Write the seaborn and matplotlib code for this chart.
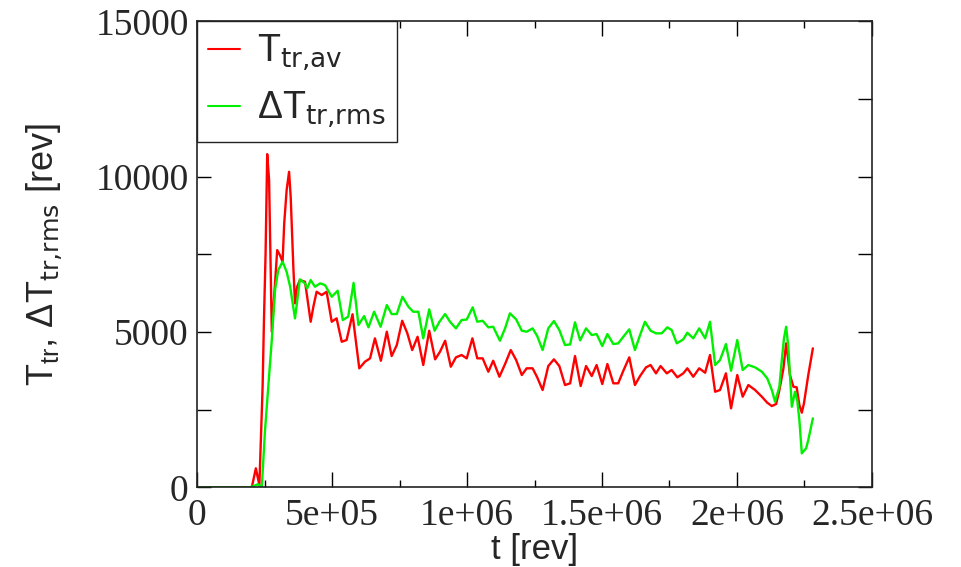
import numpy as np
import pandas as pd
import matplotlib
matplotlib.use("Agg")
import matplotlib.pyplot as plt
import seaborn as sns
from matplotlib.ticker import MultipleLocator, FixedLocator

# ---- data (t in rev) ----
t_av = [0, 203e3, 218e3, 231e3, 243e3, 248e3, 254e3, 260e3, 267e3, 277e3, 289e3, 297e3,
        307e3, 317e3, 323e3, 332e3, 341e3, 347e3, 357e3, 363e3, 371e3, 381e3, 400e3, 408e3,
        421e3, 431e3, 443e3, 462e3, 480e3, 499e3, 517e3, 536e3, 554e3, 576e3, 601e3, 622e3,
        641e3, 659e3, 681e3, 703e3, 721e3, 740e3, 760e3, 779e3, 797e3, 817e3, 838e3, 860e3,
        882e3, 900e3, 919e3, 940e3, 959e3, 980e3, 999e3, 1020e3, 1038e3, 1058e3, 1079e3,
        1097e3, 1120e3, 1141e3, 1162e3, 1182e3, 1203e3, 1221e3, 1243e3, 1260e3, 1280e3,
        1301e3, 1322e3, 1342e3, 1363e3, 1382e3, 1400e3, 1421e3, 1441e3, 1462e3, 1480e3,
        1501e3, 1520e3, 1542e3, 1560e3, 1579e3, 1601e3, 1622e3, 1641e3, 1663e3, 1680e3,
        1700e3, 1717e3, 1740e3, 1758e3, 1779e3, 1801e3, 1816e3, 1838e3, 1860e3, 1882e3,
        1900e3, 1919e3, 1937e3, 1959e3, 1978e3, 2001e3, 2021e3, 2042e3, 2067e3, 2092e3,
        2112e3, 2129e3, 2145e3, 2157e3, 2172e3, 2182e3, 2190e3, 2196e3, 2209e3, 2221e3,
        2231e3, 2240e3, 2248e3, 2264e3, 2281e3]
T_av = [0, 0, 611, 70, 3237, 5384, 7530, 10725, 9890, 5008, 6564, 7636,
        7475, 7260, 8495, 9567, 10156, 9352, 7047, 5921, 6456, 6671, 6616, 6133,
        5329, 5812, 6295, 6188, 6295, 5329, 5438, 4685, 4740, 5570, 3830, 4042,
        4151, 4795, 4074, 5008, 4225, 4579, 5361, 4956, 4418, 4846, 3936, 5040,
        4119, 4364, 4718, 3881, 4183, 4258, 4150, 4795, 4151, 4151, 3720,
        4074, 3559, 3968, 4418, 4097, 3614, 3830, 3830, 3540, 3131,
        3903, 4119, 3903, 3292, 3347, 4225, 3260, 3903, 3582, 3936,
        3324, 3968, 3347, 3347, 3752, 4183, 3292, 3582, 3861, 3936,
        3668, 3903, 3668, 3775, 3540, 3668, 3830, 3559, 3830, 3688,
        4258, 3076, 3131, 3668, 2542, 3614, 2916, 3292, 3131, 2916,
        2723, 2616, 2680, 3131, 3830, 4634, 4097, 3614, 3237, 3218,
        2648, 2401, 2703, 3614, 4473]

t_rms = [0, 196e3, 215e3, 226e3, 240e3, 252e3, 264e3, 277e3, 289e3, 301e3, 317e3, 332e3,
         345e3, 363e3, 381e3, 400e3, 408e3, 421e3, 437e3, 456e3, 474e3, 499e3, 521e3, 540e3,
         560e3, 580e3, 598e3, 619e3, 635e3, 656e3, 680e3, 703e3, 721e3, 740e3, 761e3, 783e3,
         801e3, 820e3, 838e3, 860e3, 880e3, 898e3, 919e3, 937e3, 959e3, 980e3, 999e3, 1021e3,
         1038e3, 1058e3, 1079e3, 1097e3, 1122e3, 1141e3, 1159e3, 1182e3, 1203e3, 1221e3,
         1243e3, 1260e3, 1280e3, 1301e3, 1322e3, 1342e3, 1363e3, 1382e3, 1400e3, 1419e3,
         1441e3, 1462e3, 1480e3, 1501e3, 1520e3, 1542e3, 1560e3, 1579e3, 1601e3, 1622e3,
         1641e3, 1659e3, 1680e3, 1700e3, 1721e3, 1742e3, 1758e3, 1777e3, 1801e3, 1816e3,
         1838e3, 1860e3, 1882e3, 1900e3, 1919e3, 1937e3, 1959e3, 1978e3, 2001e3, 2021e3,
         2042e3, 2067e3, 2092e3, 2112e3, 2129e3, 2141e3, 2157e3, 2166e3, 2174e3, 2182e3,
         2190e3, 2203e3, 2215e3, 2223e3, 2231e3, 2240e3, 2256e3, 2264e3, 2281e3]
dT_rms = [0, 0, 60, 100, 0, 1844, 3237, 4740, 6349, 6993, 7260, 6938,
          6456, 5438, 6693, 6564, 6403, 6671, 6456, 6564, 6510, 6133, 6327, 5384,
          5491, 6580, 5223, 5512, 5149, 5651, 5168, 5867, 5577, 5577, 6133, 5812,
          5651, 5651, 4795, 5728, 5040, 5329, 5577, 5329, 5116, 5384, 5400, 5793,
          5329, 5361, 5149, 5168, 4718, 5116, 5599, 5406, 5040, 5008,
          5116, 4869, 4418, 5116, 5352, 5062, 4579, 4600, 5310, 4730,
          5116, 4901, 4933, 4547, 4933, 4611, 4633, 4846, 5084, 4418,
          4901, 5329, 5040, 4956, 4956, 5149, 5062, 4633, 4762, 4975,
          4795, 5116, 4795, 5329, 3936, 4097, 4611, 3752, 4740, 3775,
          3936, 3861, 3720, 3508, 3131, 2755, 3237, 4097, 4795, 5168,
          4525, 2594, 3076, 2809, 2166, 1094, 1255, 1522, 2220]

x_ticks = [0, 5e5, 1e6, 1.5e6, 2e6, 2.5e6]
x_labels = ["0", "5e+05", "1e+06", "1.5e+06", "2e+06", "2.5e+06"]
y_ticks = [0, 5000, 10000, 15000]
y_labels = ["0", "5000", "10000", "15000"]

sns.set_style("white")
plt.rcParams["font.family"] = ["Liberation Sans", "DejaVu Sans"]

fig = plt.figure(figsize=(9.62, 5.67), dpi=100)
ax = fig.add_axes([197 / 962, 1 - 487.3 / 567, 675 / 962, 466 / 567])

df_av = pd.DataFrame({"t": t_av, "v": T_av})
df_rms = pd.DataFrame({"t": t_rms, "v": dT_rms})
sns.lineplot(data=df_av, x="t", y="v", color="#ff0000", lw=1.7, estimator=None,
             sort=False, ax=ax, label=r"$\mathregular{T_{\text{tr,av}}}$")
sns.lineplot(data=df_rms, x="t", y="v", color="#00f000", lw=1.7, estimator=None,
             sort=False, ax=ax, label=r"$\mathregular{ΔT_{\text{tr,rms}}}$")

ax.set_xlim(0, 2.5e6)
ax.set_ylim(0, 15000)
ax.xaxis.set_major_locator(FixedLocator(x_ticks))
ax.set_xticklabels(x_labels)
ax.xaxis.set_minor_locator(MultipleLocator(2.5e5))
ax.yaxis.set_major_locator(FixedLocator(y_ticks))
ax.set_yticklabels(y_labels)
ax.yaxis.set_minor_locator(MultipleLocator(2500))

ax.tick_params(which="both", direction="in", top=True, right=True, bottom=True, left=True,
               color="black", width=1.0)
ax.tick_params(axis="x", which="major", length=11, pad=8)
ax.tick_params(axis="x", which="minor", length=5)
ax.tick_params(axis="y", which="both", length=10, pad=6)
for lab in ax.get_xticklabels() + ax.get_yticklabels():
    lab.set_fontfamily("Liberation Serif")
    lab.set_fontsize(27)

for s in ax.spines.values():
    s.set_color("#222222")
    s.set_linewidth(1.2)

ax.set_xlabel("t [rev]", fontsize=25, labelpad=0)
ax.set_ylabel(r"$\mathregular{T_{tr}}$, $\mathregular{ΔT_{\text{tr,rms}}}$ [rev]",
              fontsize=26, labelpad=22)

leg = ax.legend(loc="upper left", borderaxespad=0, fancybox=False, framealpha=1,
                edgecolor="#222222", fontsize=27, handlelength=0.85, handletextpad=0.45,
                borderpad=0.3, labelspacing=0.45)
leg.get_frame().set_linewidth(1.0)
for line in leg.get_lines():
    line.set_linewidth(1.5)

fig.savefig("out.png", dpi=100)
